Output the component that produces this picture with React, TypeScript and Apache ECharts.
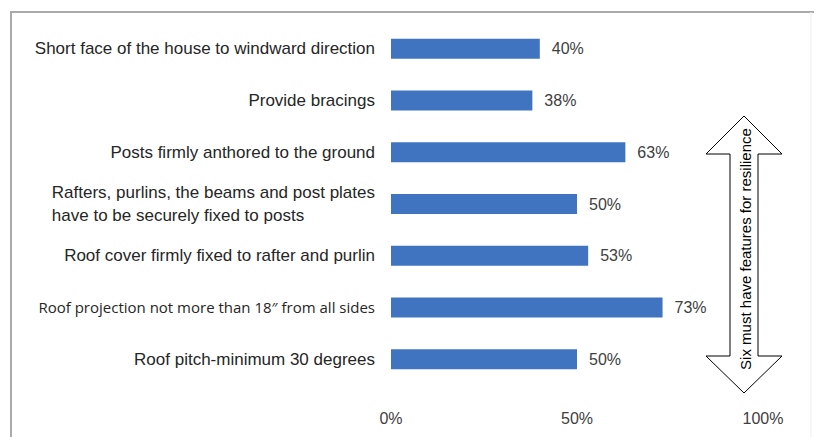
import React, { useEffect, useRef } from "react";
import * as echarts from "echarts";

const categories = [
  "Short face of the house to windward direction",
  "Provide bracings",
  "Posts firmly anthored to the ground",
  "Rafters, purlins, the beams and post plates\nhave to be securely fixed to posts",
  "Roof cover firmly fixed to rafter and purlin",
  "Roof projection not more than 18\u2033 from all sides",
  "Roof pitch-minimum 30 degrees",
];
const values = [40, 38, 63, 50, 53, 73, 50];
const xTicks = [0, 50, 100];
const arrowText = "Six must have features for resilience";

export default function App() {
  const ref = useRef<HTMLDivElement>(null);
  useEffect(() => {
    document.body.style.margin = "0";
    const chart = echarts.init(ref.current!, null, { renderer: "svg" });
    const font = "'Liberation Sans', Arial, sans-serif";
    chart.setOption({
      animation: false,
      backgroundColor: "#ffffff",
      grid: { left: 391, right: 51, top: 23, bottom: 52, containLabel: false },
      xAxis: {
        type: "value",
        min: xTicks[0],
        max: xTicks[xTicks.length - 1],
        interval: 50,
        axisLine: { show: false },
        axisTick: { show: false },
        splitLine: { show: false },
        axisLabel: {
          formatter: "{value}%",
          fontSize: 16,
          color: "#404040",
          fontFamily: font,
          margin: 25,
        },
      },
      yAxis: {
        type: "category",
        data: categories,
        inverse: true,
        axisLine: { show: false },
        axisTick: { show: false },
        axisLabel: {
          margin: 16,
          fontSize: 17,
          color: "#262626",
          fontFamily: font,
          formatter: (v: string) => {
            if (v.indexOf("\n") >= 0) {
              return v
                .split("\n")
                .map((s) => "{l|" + s + "}")
                .join("\n");
            }
            if (v.indexOf("18\u2033") >= 0) return "{c|" + v + "}";
            return v;
          },
          rich: {
            l: { align: "left", fontSize: 17, fontFamily: font, color: "#262626", lineHeight: 23 },
            c: { fontSize: 15, fontFamily: "'Open Sans', sans-serif", color: "#262626" },
          },
        },
      },
      series: [
        {
          type: "bar",
          data: values,
          barWidth: 20,
          itemStyle: { color: "#4174C0" },
          label: {
            show: true,
            position: "right",
            distance: 12,
            formatter: "{c}%",
            fontSize: 16,
            color: "#404040",
            fontFamily: font,
          },
        },
      ],
      graphic: [
        { type: "line", shape: { x1: 10, y1: 12, x2: 814, y2: 12 }, style: { stroke: "#aaaaaa", lineWidth: 2 } },
        { type: "line", shape: { x1: 11, y1: 12, x2: 11, y2: 437 }, style: { stroke: "#aaaaaa", lineWidth: 2 } },
        { type: "line", shape: { x1: 811, y1: 12, x2: 811, y2: 437 }, style: { stroke: "#ebebeb", lineWidth: 1 } },
        {
          type: "polygon",
          shape: {
            points: [
              [744, 116], [782, 154], [758, 154], [758, 356], [782, 356],
              [744, 393], [706, 356], [730, 356], [730, 154], [706, 154],
            ],
          },
          style: { fill: "#ffffff", stroke: "#000000", lineWidth: 1 },
        },
        {
          type: "text",
          x: 745,
          y: 249,
          rotation: Math.PI / 2,
          style: {
            text: arrowText,
            fontSize: 15,
            fontFamily: font,
            fill: "#000000",
            align: "center",
            verticalAlign: "middle",
          },
        },
      ],
    });
    return () => chart.dispose();
  }, []);
  return <div ref={ref} style={{ width: 814, height: 437 }} />;
}
